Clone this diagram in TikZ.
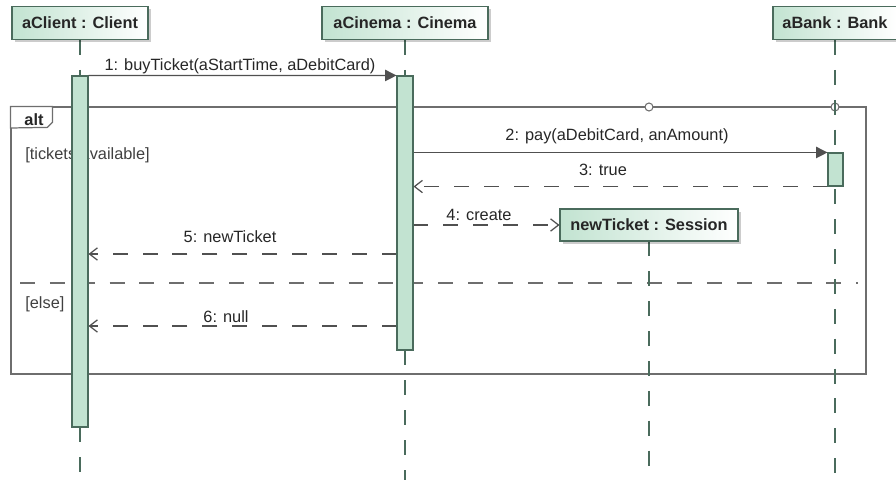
\documentclass[tikz,border=0pt]{standalone}
\usepackage{fontspec}
\setmainfont{Liberation Sans}
\usetikzlibrary{arrows.meta,shadows,fit,backgrounds}

\definecolor{mint}{HTML}{C2E3D1}
\definecolor{lifegreen}{HTML}{4A6B5C}
\definecolor{framegray}{HTML}{6E6E6E}
\definecolor{msggray}{HTML}{505050}
\definecolor{txtgray}{HTML}{262626}

\tikzset{
  head/.style={draw=lifegreen, line width=0.6pt, left color=mint, right color=white,
    minimum height=0.66cm, inner sep=0pt, text=txtgray,
    font=\bfseries\fontsize{9.3}{11}\selectfont,
    drop shadow={shadow xshift=1.5pt, shadow yshift=-1.5pt, fill=black, opacity=0.2}},
  bar/.style={draw=lifegreen, fill=mint, line width=0.6pt, inner sep=0pt},
  life/.style={draw=lifegreen, line width=0.6pt, dash pattern=on 8.5pt off 8.5pt},
  call/.style={draw=msggray, line width=0.7pt, -{Triangle[length=6.5pt,width=6.5pt]}},
  reply/.style={draw=msggray, line width=0.7pt, dash pattern=on 8.5pt off 8.5pt,
    -{Straight Barb[length=4.5pt,width=7pt]}},
  lbl/.style={anchor=base, inner sep=0pt, text=txtgray, font=\fontsize{9.3}{11}\selectfont},
  guard/.style={lbl, anchor=base west, text=black!75},
  gate/.style={circle, draw=framegray, fill=white, line width=0.6pt, minimum size=0.16cm, inner sep=0pt},
  frm/.style={draw=framegray, line width=0.7pt},
}

\begin{document}
\begin{tikzpicture}[x=0.02cm, y=-0.02cm]
  \useasboundingbox (0,0) rectangle (896,480);
  \coordinate (bottom) at (0,480);

  % lifeline heads
  \node[head, minimum width=2.72cm] (client) at (80,23) {aClient : Client};
  \node[head, minimum width=3.32cm] (cinema) at (405,23) {aCinema : Cinema};
  \node[head, minimum width=2.48cm] (bank) at (835,23) {aBank : Bank};

  % guards (the client bar covers part of the first one)
  \node[guard] (grd1) at (25,159) {[tickets available]};
  \node[guard] (grd2) at (25,308) {[else]};

  % activations
  \node[bar, fit={(72,76) (88,427)}] (clibar) {};
  \node[bar, fit={(397,76) (413,350)}] (cinbar) {};
  \node[bar, fit={(828,153) (843,186)}] (bnkbar) {};

  \node[head, minimum width=3.56cm, minimum height=0.64cm] (session) at (649,225) {newTicket : Session};

  \begin{scope}[on background layer]
    % alt fragment
    \node[frm, inner sep=0pt, fit={(11,107) (866,374)}] (altfrm) {};
    \draw[frm, fill=white] (altfrm.north west) -- ++(42,0) -- ++(0,16) -- ++(-5,5) -- (altfrm.north west |- 0,128) -- cycle;
    \draw[frm, dash pattern=on 8.5pt off 8.5pt] (20,283) -- (858,283);
    \node[gate] (gate1) at (649,107) {};
    \node[gate] (gate2) at (835,107) {};
    % lifelines
    \draw[life] (client.south) -- (clibar.north);
    \draw[life] (clibar.south) -- (clibar.south |- bottom);
    \draw[life] (cinema.south) -- (cinbar.north);
    \draw[life] (cinbar.south) -- (cinbar.south |- bottom);
    \draw[life] (bank.south) -- (bank.south |- bottom);
    \draw[life] (session.south) -- (session.south |- bottom);
  \end{scope}

  \node[lbl, font=\bfseries\fontsize{9.3}{11}\selectfont] (altlbl) at (34,125) {alt};

  % messages
  \coordinate (y5) at (0,254);
  \coordinate (y6) at (0,326);
  \draw[call] (clibar.north east) -- (cinbar.north west);
  \draw[call] (cinbar.east |- bnkbar.north) -- (bnkbar.north west);
  \draw[reply] (bnkbar.south west) -- (cinbar.east |- bnkbar.south);
  \draw[reply] (cinbar.east |- session.west) -- (session.west);
  \draw[reply] (cinbar.west |- y5) -- (clibar.east |- y5);
  \draw[reply] (cinbar.west |- y6) -- (clibar.east |- y6);

  \node[lbl] (m1) at (240,71) {1: buyTicket(aStartTime, aDebitCard)};
  \node[lbl] (m2) at (617,140) {2: pay(aDebitCard, anAmount)};
  \node[lbl] (m3) at (603,175) {3: true};
  \node[lbl] (m4) at (479,220) {4: create};
  \node[lbl] (m5) at (230,242) {5: newTicket};
  \node[lbl] (m6) at (226,322) {6: null};
\end{tikzpicture}
\end{document}
